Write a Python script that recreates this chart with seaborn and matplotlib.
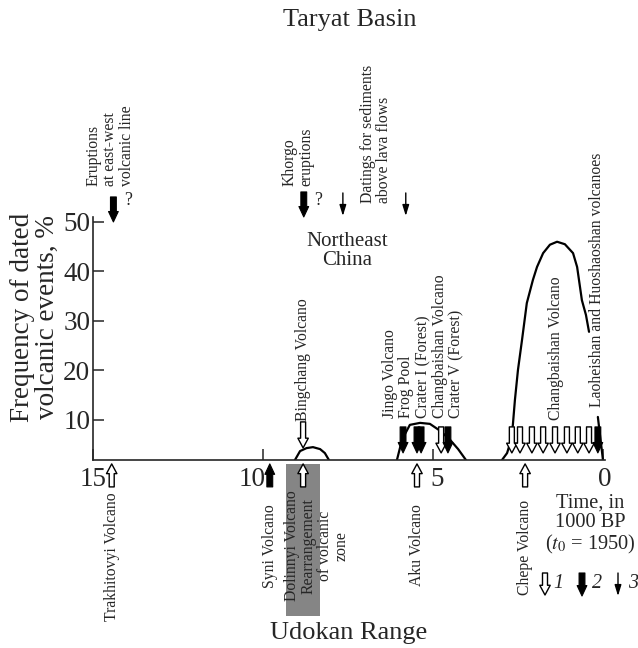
import matplotlib
matplotlib.use("Agg")
import matplotlib.pyplot as plt
import matplotlib.transforms as mtrans
from matplotlib.patches import Rectangle, ArrowStyle
import pandas as pd
import seaborn as sns

sns.set_style("ticks")
plt.rcParams["font.family"] = ["Liberation Serif", "DejaVu Serif"]
plt.rcParams["mathtext.fontset"] = "stix"

W, H = 638, 648

# ---- frequency curves (time, 1000 BP ; frequency of dated events, %) ----
bing_t = [9.06, 8.91, 8.72, 8.53, 8.32, 8.18, 8.06]
bing_f = [1.9, 3.7, 4.3, 4.5, 4.1, 3.3, 1.9]

jingo_t = [6.06, 5.91, 5.68, 5.38, 5.09, 4.79, 4.50, 4.26, 4.03]
jingo_f = [1.9, 6.0, 9.0, 9.4, 9.2, 7.8, 6.0, 4.1, 1.9]

chang_t = [2.97, 2.82, 2.71, 2.65, 2.59, 2.50, 2.38, 2.24, 2.06, 1.94, 1.76,
           1.56, 1.35, 1.12, 0.88, 0.76, 0.62, 0.50, 0.41]
chang_f = [1.9, 3.3, 5.8, 9.0, 14.0, 20.1, 26.2, 33.6, 38.3, 40.9, 43.7,
           45.4, 46.0, 45.5, 43.7, 40.9, 34.2, 31.2, 27.8]

lao_t = [0.15, 0.0]
lao_f = [10.6, 1.9]

# ---- dated events (time, 1000 BP) ----
ne_hollow = [2.68, 2.44, 2.09, 1.76, 1.41, 1.06, 0.74, 0.41]
ne_black = [0.15]
jingo_black = [5.88, 5.47, 5.35, 4.56]
jingo_hollow = [4.76]
bing_hollow = [8.82]
taryat_black = [14.4, 8.8]
taryat_thin = [7.65, 5.8]
udokan_hollow = [14.45, 8.82, 5.47, 2.29]
udokan_black = [9.8]

xticks = [15, 10, 5, 0]
xtick_labels = ["15", "10", "5", "0"]
yticks = [10, 20, 30, 40, 50]
ytick_labels = ["10", "20", "30", "40", "50"]

fig = plt.figure(figsize=(W / 100, H / 100), dpi=100)
ax = fig.add_axes([93 / W, (H - 460) / H, 512 / W, 243 / H])

for t, f in [(bing_t, bing_f), (jingo_t, jingo_f), (chang_t, chang_f), (lao_t, lao_f)]:
    df = pd.DataFrame({"t": t, "f": f})
    sns.lineplot(data=df, x="t", y="f", sort=False, estimator=None,
                 color="black", lw=1.6, ax=ax)

ax.set_xlim(15, -0.06)
ax.set_ylim(1.9, 51.0)
ax.set_xlabel("")
ax.set_ylabel("")
sns.despine(ax=ax)
for s in ("left", "bottom"):
    ax.spines[s].set_linewidth(1.2)

ax.set_xticks(xticks, labels=xtick_labels)
ax.set_yticks(yticks, labels=ytick_labels)
ax.tick_params(axis="both", direction="in", length=8, width=1.1, labelsize=19.5)
ax.tick_params(axis="x", pad=5)
ax.tick_params(axis="y", pad=2)
shift = {"10": -11, "5": 4, "0": 2}
for lab in ax.get_xticklabels():
    dx = shift.get(lab.get_text(), 0)
    if dx:
        lab.set_transform(lab.get_transform() +
                          mtrans.ScaledTranslation(dx / 100, 0, fig.dpi_scale_trans))


def fy(ypx):
    return (469.5 - ypx) / 4.95


def arrow(tip, tail, kind, coords="data"):
    if kind == 1:
        props = dict(arrowstyle=ArrowStyle.Simple(head_length=0.7, head_width=0.75,
                                                  tail_width=0.36),
                     fc="white", ec="black", lw=1.0)
    elif kind == 2:
        props = dict(arrowstyle=ArrowStyle.Simple(head_length=0.75, head_width=0.7,
                                                  tail_width=0.42),
                     fc="black", ec="black", lw=0.8)
    else:
        props = dict(arrowstyle="-|>,head_length=0.65,head_width=0.2",
                     fc="black", ec="black", lw=1.0)
    props.update(shrinkA=0, shrinkB=0, mutation_scale=10)
    ax.annotate("", xy=tip, xytext=tail, xycoords=coords, textcoords=coords,
                arrowprops=props, annotation_clip=False, zorder=5)


# event markers on the Northeast China axis
for t in ne_hollow + jingo_hollow:
    arrow((t, fy(453)), (t, fy(427)), 1)
for t in ne_black + jingo_black:
    arrow((t, fy(453)), (t, fy(427)), 2)
for t in bing_hollow:
    arrow((t, fy(448)), (t, fy(422)), 1)

# Taryat Basin events
arrow((taryat_black[0], fy(222)), (taryat_black[0], fy(197)), 2)
arrow((taryat_black[1], fy(217)), (taryat_black[1], fy(192)), 2)
for t in taryat_thin:
    arrow((t, fy(216)), (t, fy(193)), 3)

# Udokan Range events (below the axis)
ax.add_patch(Rectangle((8.32, fy(616)), 1.0, fy(464) - fy(616), facecolor="#858585",
                       edgecolor="none", clip_on=False, zorder=3))
for t in udokan_hollow:
    arrow((t, fy(464)), (t, fy(487)), 1)
for t in udokan_black:
    arrow((t, fy(464)), (t, fy(487)), 2)


def ftext(x, y, s, **kw):
    fig.text(x / W, 1 - y / H, s, **kw)


small = dict(fontsize=11.3, rotation=90, linespacing=1.05)
ftext(350, 20, "Taryat Basin", fontsize=19, ha="center", va="center")
ftext(349, 633, "Udokan Range", fontsize=19, ha="center", va="center")
ftext(35, 317, "Frequency of dated\nvolcanic events, %", fontsize=19.5,
      rotation=90, ha="center", va="center", multialignment="center", linespacing=0.95)
ftext(347, 251, "Northeast\nChina", fontsize=15, ha="center", va="center",
      multialignment="center", linespacing=0.95)

ftext(110, 186, "Eruptions\nat east-west\nvolcanic line", ha="center", va="bottom",
      multialignment="left", **small)
ftext(128, 201, "?", fontsize=13, ha="center", va="center")
ftext(298, 186, "Khorgo\neruptions", ha="center", va="bottom",
      multialignment="left", **small)
ftext(318, 201, "?", fontsize=13, ha="center", va="center")
ftext(376, 203, "Datings for sediments\nabove lava flows", ha="center", va="bottom",
      multialignment="left", **small)

ftext(303, 421, "Bingchang Volcano", ha="center", va="bottom", **small)
ftext(423, 418, "Jingo Volcano\nFrog Pool\nCrater I (Forest)\nChangbaishan Volcano\n"
      "Crater V (Forest)", ha="center", va="bottom", multialignment="left", **small)
ftext(556, 420, "Changbaishan Volcano", ha="center", va="bottom", **small)
ftext(597, 407, "Laoheishan and Huoshaoshan volcanoes", ha="center", va="bottom", **small)

ftext(112, 557, "Trakhitovyi Volcano", ha="center", va="center", **small)
ftext(270, 546, "Syni Volcano", ha="center", va="center", **small)
ftext(317, 546, "Dolinnyi Volcano\nRearrangement\nof volcanic\nzone", ha="center",
      va="center", multialignment="center", zorder=6, **small)
ftext(417, 545, "Aku Volcano", ha="center", va="center", **small)
ftext(525, 547, "Chepe Volcano", ha="center", va="center", **small)

ftext(590, 525, "Time, in\n1000 BP\n($t_0$ = 1950)", fontsize=14.7, ha="center",
      va="center", multialignment="center", linespacing=1.05)

# legend of marker types
arrow((545, H - 595), (545, H - 573), 1, coords="figure pixels")
ftext(558, 584, "1", fontsize=14.5, style="italic", ha="center", va="center")
arrow((582, H - 596), (582, H - 573), 2, coords="figure pixels")
ftext(597, 584, "2", fontsize=14.5, style="italic", ha="center", va="center")
arrow((618, H - 596), (618, H - 573), 3, coords="figure pixels")
ftext(633, 584, "3", fontsize=14.5, style="italic", ha="center", va="center")

fig.savefig("out.png", dpi=100)
